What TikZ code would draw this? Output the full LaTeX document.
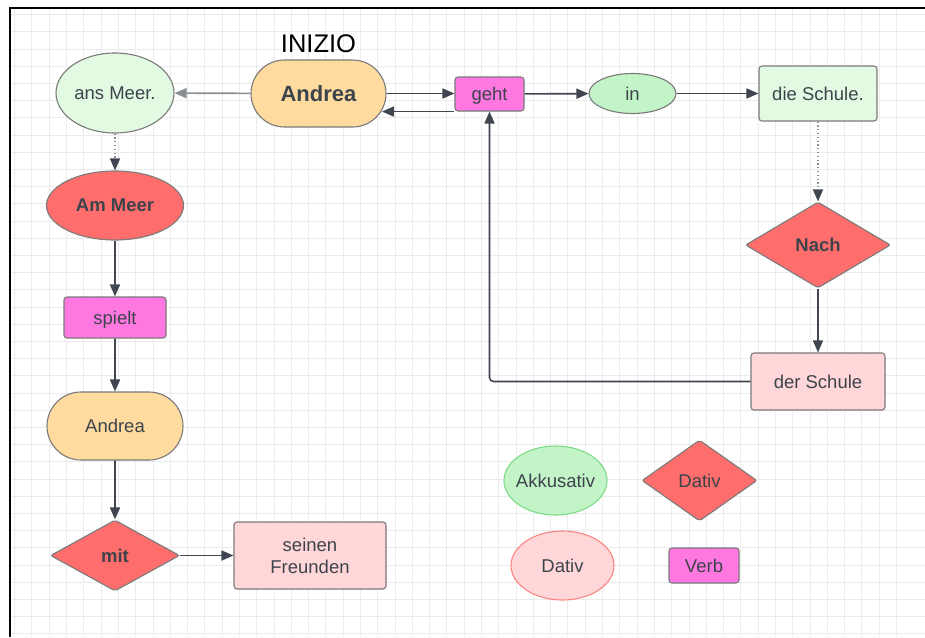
\documentclass[tikz,border=0pt]{standalone}
\usepackage{fontspec}
\setmainfont{Liberation Sans}
\usetikzlibrary{shapes,arrows.meta,positioning}

\definecolor{ink}{HTML}{3D434B}
\definecolor{edge}{HTML}{7A7A7A}
\definecolor{wire}{HTML}{40464F}
\definecolor{faintwire}{HTML}{8A8F96}
\definecolor{gridgray}{HTML}{EBEBEB}
\definecolor{peach}{HTML}{FFDB9F}
\definecolor{mint}{HTML}{E2F9E2}
\definecolor{leaf}{HTML}{C3F4C8}
\definecolor{leafedge}{HTML}{7DDB86}
\definecolor{tomato}{HTML}{FF6E6C}
\definecolor{rose}{HTML}{FFD7D9}
\definecolor{roseedge}{HTML}{F98580}
\definecolor{orchid}{HTML}{FF78E2}

\tikzset{
    every node/.style={text=ink, font=\fontsize{18.5}{22}\selectfont},
    shape base/.style={draw=edge, line width=1.1pt, inner sep=0pt},
    pill/.style={shape base, rounded rectangle, fill=peach},
    oval/.style={shape base, ellipse},
    box/.style={shape base, rectangle, rounded corners=3pt},
    verbbox/.style={box, fill=orchid, text depth=0pt},
    rhomb/.style={shape base, diamond, aspect=1.7, rounded corners=2pt, fill=tomato},
    link/.style={draw=wire, line width=1.6pt, -{Triangle[length=12pt,width=10pt]}},
    faint/.style={draw=faintwire, line width=1.3pt, dash pattern=on 1.3pt off 2.5pt,
        -{Triangle[length=12pt,width=10pt,color=wire]}},
    gridline/.style={draw=gridgray, line width=1pt}
}

\begin{document}
\begin{tikzpicture}[x=1pt, y=-1pt]
    \useasboundingbox (0,0) rectangle (925,637);
    \fill[white] (0,0) rectangle (925,637);
    \foreach \i in {0,...,51}
        \draw[gridline] ({14.7+17.29*\i},8) -- ({14.7+17.29*\i},637);
    \foreach \j in {0,...,36}
        \draw[gridline] (10,{14.6+17.2*\j}) -- (925,{14.6+17.2*\j});
    \draw[line width=2pt] (10,637) -- (10,8) -- (925,8);

    \node[pill, minimum width=135, minimum height=67,
        font=\fontsize{22}{26}\selectfont\bfseries] (andrea) at (318.5,93.5) {Andrea};
    \node[above=7pt of andrea, inner sep=0pt, text=black,
        font=\fontsize{25.5}{30}\selectfont] (inizio) {INIZIO};
    \node[oval, fill=mint, minimum width=118, minimum height=80] (ansmeer) at (115,93) {ans Meer.};
    \node[verbbox, minimum width=69, minimum height=34] (geht) at (489.5,94) {geht};
    \node[oval, fill=leaf, minimum width=87, minimum height=40] (in) at (632.5,93.5) {in};
    \node[box, fill=mint, minimum width=118, minimum height=55] (dieschule) at (818,93.5) {die Schule.};
    \node[rhomb, minimum width=145, minimum height=86,
        font=\fontsize{18.5}{22}\selectfont\bfseries] (nach) at (818,245) {Nach};
    \node[box, fill=rose, minimum width=134, minimum height=57] (derschule) at (818,381.5) {der Schule};

    \node[oval, fill=tomato, minimum width=137, minimum height=69,
        font=\fontsize{18.5}{22}\selectfont\bfseries] (ammeer) at (115,205.5) {Am Meer};
    \node[verbbox, minimum width=102, minimum height=41] (spielt) at (115,317.5) {spielt};
    \node[pill, minimum width=136, minimum height=68] (andreab) at (115,426) {Andrea};
    \node[rhomb, minimum width=129, minimum height=71,
        font=\fontsize{18.5}{22}\selectfont\bfseries] (mit) at (115,555.5) {mit};
    \node[box, fill=rose, minimum width=152, minimum height=67, align=center] (freunden) at (310,555.5) {seinen\\Freunden};

    \node[oval, fill=leaf, draw=leafedge, inner xsep=-4pt, minimum width=103, minimum height=69] (akk) at (555.5,480.5) {Akkusativ};
    \node[rhomb, minimum width=115, minimum height=81] (dativd) at (699.5,480.5) {Dativ};
    \node[oval, fill=rose, draw=roseedge, minimum width=103, minimum height=69] (dative) at (562.5,565.5) {Dativ};
    \node[verbbox, minimum width=70, minimum height=35] (verb) at (704,565.5) {Verb};

    \draw[link, draw=faintwire] (andrea) -- (ansmeer);
    \draw[link] (andrea.east) -- (andrea.east -| geht.west);
    \draw[link] (geht.south west) -- (geht.south west -| andrea.-15);
    \draw[link] (geht) -- (in);
    \draw[link] (in) -- (dieschule);
    \draw[faint] (dieschule) -- (nach);
    \draw[link] (nach) -- (derschule);
    \draw[link, rounded corners=4pt] (derschule.west) -| (geht.south);
    \draw[faint] (ansmeer) -- (ammeer);
    \draw[link] (ammeer) -- (spielt);
    \draw[link] (spielt) -- (andreab);
    \draw[link] (andreab) -- (mit);
    \draw[link] (mit) -- (freunden);
\end{tikzpicture}
\end{document}
